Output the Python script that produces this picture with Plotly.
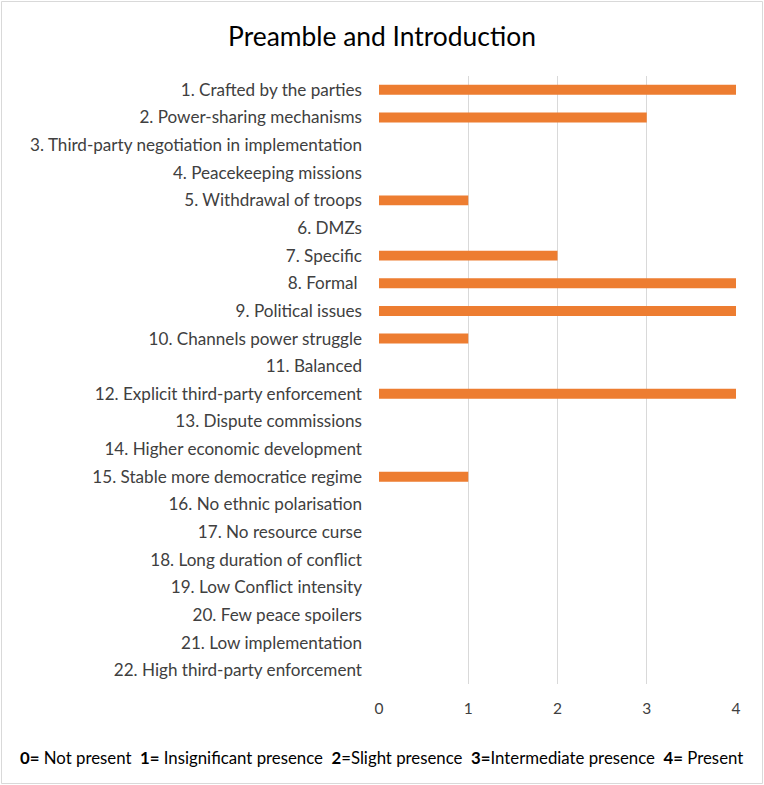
import plotly.graph_objects as go

# Criteria scored for the preamble and introduction section
criteria = [
    "1. Crafted by the parties",
    "2. Power-sharing mechanisms",
    "3. Third-party negotiation in implementation",
    "4. Peacekeeping missions",
    "5. Withdrawal of troops",
    "6. DMZs",
    "7. Specific",
    "8. Formal ",
    "9. Political issues",
    "10. Channels power struggle",
    "11. Balanced",
    "12. Explicit third-party enforcement",
    "13. Dispute commissions",
    "14. Higher economic development",
    "15. Stable more democratice regime",
    "16. No ethnic polarisation",
    "17. No resource curse",
    "18. Long duration of conflict",
    "19. Low Conflict intensity",
    "20. Few peace spoilers",
    "21. Low implementation",
    "22. High third-party enforcement",
]
scores = [4, 3, 0, 0, 1, 0, 2, 4, 4, 1, 0, 4, 0, 0, 1, 0, 0, 0, 0, 0, 0, 0]
x_ticks = [0, 1, 2, 3, 4]

W, H = 764, 785
L, R, T, B = 379, 28, 76, 101
pw, ph = W - L - R, H - T - B

FONT = "Lato, Calibri, sans-serif"

fig = go.Figure(
    go.Bar(
        x=scores,
        y=criteria,
        orientation="h",
        marker=dict(color="#ED7D31", line=dict(width=0)),
        width=0.36,
        hoverinfo="x+y",
    )
)

fig.update_layout(
    width=W,
    height=H,
    margin=dict(l=L, r=R, t=T, b=B),
    paper_bgcolor="white",
    plot_bgcolor="white",
    showlegend=False,
    font=dict(family=FONT, size=17, color="#404040"),
    title=dict(
        text="Preamble and Introduction",
        x=0.5,
        xanchor="center",
        xref="container",
        yref="container",
        y=1 - 37 / H,
        yanchor="middle",
        font=dict(family=FONT, size=26.4, color="#000000"),
    ),
    xaxis=dict(
        range=[0, 4],
        tickvals=x_ticks,
        ticktext=[str(v) for v in x_ticks],
        showgrid=True,
        gridcolor="#D9D9D9",
        gridwidth=1,
        zeroline=False,
        showline=False,
        ticks="",
        ticklabelstandoff=13,
        tickfont=dict(family=FONT, size=15.5, color="#404040"),
        fixedrange=True,
    ),
    yaxis=dict(
        categoryorder="array",
        categoryarray=criteria[::-1],
        showgrid=False,
        zeroline=False,
        showline=False,
        ticks="",
        ticklabelstandoff=16,
        tickfont=dict(family=FONT, size=17.1, color="#404040"),
        fixedrange=True,
    ),
)

# Scale key below the axis
fig.add_annotation(
    text="<b>0=</b> Not present  <b>1=</b> Insignificant presence  <b>2</b>=Slight presence  "
    "<b>3=</b>Intermediate presence  <b>4=</b> Present",
    xref="paper",
    yref="paper",
    x=(381 - L) / pw,
    y=-(757 - (T + ph)) / ph,
    xanchor="center",
    yanchor="middle",
    showarrow=False,
    font=dict(family=FONT, size=16.8, color="#000000"),
)

# Outer frame around the chart
fig.add_shape(
    type="rect",
    xref="paper",
    yref="paper",
    x0=(1.5 - L) / pw,
    x1=(W - 1.5 - L) / pw,
    y0=-(H - 1.5 - T - ph) / ph,
    y1=1 + (T - 1.5) / ph,
    line=dict(color="#D9D9D9", width=1),
    fillcolor="rgba(0,0,0,0)",
    layer="below",
)

fig.write_html("out.html")
